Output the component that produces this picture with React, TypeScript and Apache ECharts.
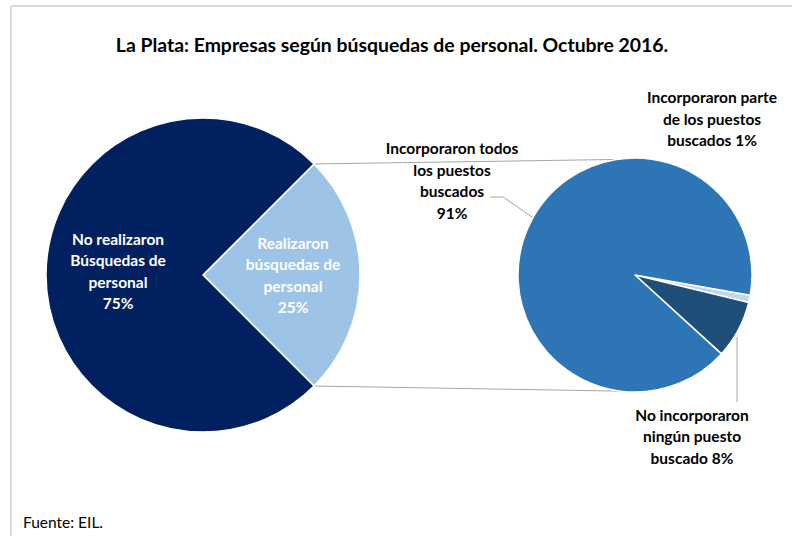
import React, { useEffect, useRef } from 'react';
import * as echarts from 'echarts';

const TITLE = 'La Plata: Empresas según búsquedas de personal. Octubre 2016.';
const SOURCE = 'Fuente: EIL.';

const mainNames = ['Realizaron\nbúsquedas de\npersonal', 'No realizaron\nBúsquedas de\npersonal'];
const mainValues = [25, 75];
const mainColors = ['#9DC3E6', '#002060'];
const mainLabelColors = ['#ffffff', '#ffffff'];

const subNames = [
  'Incorporaron parte\nde los puestos\nbuscados',
  'No incorporaron\nningún puesto\nbuscado',
  'Incorporaron todos\nlos puestos\nbuscados',
];
const subSeparators = [' ', ' ', '\n'];
const subValues = [1, 8, 91];
const subColors = ['#BDD7EE', '#1F4E79', '#2E75B6'];

// geometry
const MAIN_C = [203, 275];
const MAIN_R = 157;
const SUB_C = [635, 275];
const SUB_R = 117;

const FONT = 'Lato, "Open Sans", sans-serif';

export default function App() {
  const ref = useRef<HTMLDivElement>(null);
  useEffect(() => {
    if (!ref.current) return;
    const chart = echarts.init(ref.current, undefined, { renderer: 'svg' });

    const mainStart = 45;
    const halfSpan = (mainValues[0] / (mainValues[0] + mainValues[1])) * 180;
    const topA = (mainStart * Math.PI) / 180;
    const botA = ((mainStart - 2 * halfSpan) * Math.PI) / 180;
    const mTop = [MAIN_C[0] + MAIN_R * Math.cos(topA), MAIN_C[1] - MAIN_R * Math.sin(topA)];
    const mBot = [MAIN_C[0] + MAIN_R * Math.cos(botA), MAIN_C[1] - MAIN_R * Math.sin(botA)];
    const sTopA = (99 * Math.PI) / 180;
    const sBotA = (-97 * Math.PI) / 180;
    const sTop = [SUB_C[0] + SUB_R * Math.cos(sTopA), SUB_C[1] - SUB_R * Math.sin(sTopA)];
    const sBot = [SUB_C[0] + SUB_R * Math.cos(sBotA), SUB_C[1] - SUB_R * Math.sin(sBotA)];

    const mainLabelPos = [
      [293, 275],
      [118, 271],
    ];
    const subLabelPos = [
      [712, 118.5],
      [692, 436],
      [452, 180.5],
    ];
    const subLinePts: any[] = [
      null,
      [
        [737, 337],
        [737, 370],
        [737, 402],
      ],
      [
        [532, 217],
        [503, 197],
        [490, 197],
      ],
    ];

    const labelBase = {
      fontFamily: FONT,
      fontWeight: 'bold' as const,
      fontSize: 15.5,
      lineHeight: 21.5,
      align: 'center' as const,
    };

    chart.setOption({
      animation: false,
      backgroundColor: '#ffffff',
      graphic: [
        { type: 'line', shape: { x1: 11, y1: 6, x2: 792, y2: 6 }, style: { stroke: '#d9d9d9', lineWidth: 2 } },
        { type: 'line', shape: { x1: 11, y1: 6, x2: 11, y2: 536 }, style: { stroke: '#d9d9d9', lineWidth: 2 } },
        {
          type: 'text',
          x: 392,
          y: 44,
          style: {
            text: TITLE,
            fontFamily: FONT,
            fontWeight: 'bold',
            fontSize: 19.4,
            fill: '#000000',
            align: 'center',
            verticalAlign: 'middle',
          },
        },
        {
          type: 'text',
          x: 23,
          y: 522,
          style: {
            text: SOURCE,
            fontFamily: FONT,
            fontSize: 15.5,
            fill: '#000000',
            align: 'left',
            verticalAlign: 'middle',
          },
        },
        {
          type: 'line',
          shape: { x1: mTop[0], y1: mTop[1], x2: sTop[0], y2: sTop[1] },
          style: { stroke: '#a6a6a6', lineWidth: 1 },
        },
        {
          type: 'line',
          shape: { x1: mBot[0], y1: mBot[1], x2: sBot[0], y2: sBot[1] },
          style: { stroke: '#a6a6a6', lineWidth: 1 },
        },
      ],
      series: [
        {
          type: 'pie',
          center: MAIN_C,
          radius: [0, MAIN_R],
          startAngle: mainStart,
          clockwise: true,
          avoidLabelOverlap: false,
          itemStyle: { borderColor: '#ffffff', borderWidth: 1.5 },
          label: {
            show: true,
            position: 'inside',
            ...labelBase,
            formatter: (p: any) => `${p.name}\n${p.value}%`,
          },
          labelLine: { show: false },
          labelLayout: (p: any) => ({
            x: mainLabelPos[p.dataIndex][0],
            y: mainLabelPos[p.dataIndex][1],
            align: 'center',
            verticalAlign: 'middle',
          }),
          emphasis: { disabled: true },
          data: mainValues.map((v, i) => ({
            value: v,
            name: mainNames[i],
            itemStyle: { color: mainColors[i] },
            label: { color: mainLabelColors[i] },
          })),
        },
        {
          type: 'pie',
          center: SUB_C,
          radius: [0, SUB_R],
          startAngle: -10,
          clockwise: true,
          avoidLabelOverlap: false,
          itemStyle: { borderColor: '#ffffff', borderWidth: 1.5 },
          label: {
            show: true,
            position: 'outside',
            ...labelBase,
            color: '#000000',
            formatter: (p: any) => `${p.name}${subSeparators[p.dataIndex]}${p.value}%`,
          },
          labelLine: { show: true, lineStyle: { color: '#a6a6a6', width: 1 } },
          labelLayout: (p: any) => {
            const r: any = {
              x: subLabelPos[p.dataIndex][0],
              y: subLabelPos[p.dataIndex][1],
              align: 'center',
              verticalAlign: 'middle',
            };
            if (subLinePts[p.dataIndex]) r.labelLinePoints = subLinePts[p.dataIndex];
            return r;
          },
          emphasis: { disabled: true },
          data: subValues.map((v, i) => ({
            value: v,
            name: subNames[i],
            itemStyle: { color: subColors[i] },
            labelLine: { show: i !== 0 },
          })),
        },
      ],
    });
    return () => chart.dispose();
  }, []);
  return (
    <div
      ref={ref}
      style={{ position: 'absolute', left: 0, top: 0, width: 792, height: 536 }}
    />
  );
}
